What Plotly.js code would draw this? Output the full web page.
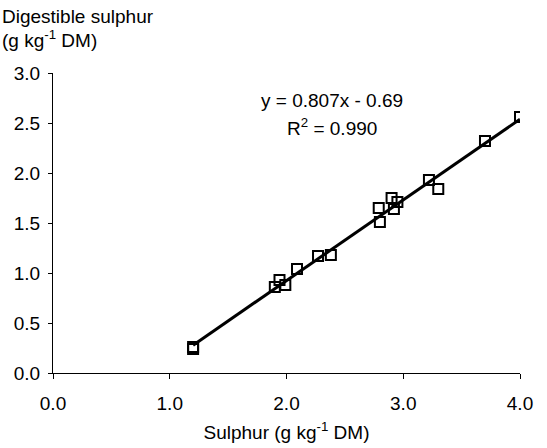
<!DOCTYPE html>
<html>
<head>
<meta charset="utf-8">
<script src="https://cdn.plot.ly/plotly-3.0.1.min.js"></script>
<style>html,body{margin:0;padding:0;background:#fff;}#chart{width:547px;height:448px;}</style>
</head>
<body>
<div id="chart"></div>
<script>
// Data
const sulphur = [1.2, 1.2, 1.9, 1.94, 1.99, 2.09, 2.27, 2.38, 2.79, 2.8, 2.9, 2.92, 2.95, 3.22, 3.3, 3.7, 4.0];
const digestibleSulphur = [0.26, 0.24, 0.86, 0.93, 0.88, 1.04, 1.17, 1.18, 1.65, 1.51, 1.75, 1.64, 1.71, 1.93, 1.84, 2.32, 2.56];
const slope = 0.807;
const intercept = -0.69;
const rSquared = 0.990;
const tickVals = [0, 1, 2, 3, 4];
const tickText = ['0.0', '1.0', '2.0', '3.0', '4.0'];
const yTickVals = [0, 0.5, 1, 1.5, 2, 2.5, 3];
const yTickText = ['0.0', '0.5', '1.0', '1.5', '2.0', '2.5', '3.0'];

const xMin = Math.min(...sulphur), xMax = Math.max(...sulphur);
const fitX = [xMin, xMax];
const fitY = fitX.map(v => slope * v + intercept);

const font = {family: 'Liberation Sans, Arial, sans-serif', size: 19, color: '#000'};

const traces = [
  {x: fitX, y: fitY, type: 'scatter', mode: 'lines', line: {color: '#000', width: 3}, hoverinfo: 'skip'},
  {x: sulphur, y: digestibleSulphur, type: 'scatter', mode: 'markers',
   marker: {symbol: 'square-open', size: 10, color: '#000', line: {width: 2, color: '#000'}}}
];

const layout = {
  width: 547, height: 448,
  margin: {l: 53, r: 27, t: 73, b: 75},
  paper_bgcolor: '#fff', plot_bgcolor: '#fff',
  showlegend: false,
  font: font,
  xaxis: {
    range: [0, 4], tickvals: tickVals, ticktext: tickText,
    showgrid: false, zeroline: false, showline: true, linecolor: '#000', linewidth: 1,
    ticks: 'outside', ticklen: 5, tickcolor: '#000', tickwidth: 1,
    ticklabelstandoff: 8,
    tickfont: font,
    title: {text: 'Sulphur (g kg<sup>-1</sup> DM)', font: font, standoff: 12}
  },
  yaxis: {
    range: [0, 3], tickvals: yTickVals, ticktext: yTickText,
    showgrid: false, zeroline: false, showline: true, linecolor: '#000', linewidth: 1,
    ticks: 'outside', ticklen: 4, tickcolor: '#000', tickwidth: 1,
    ticklabelstandoff: 4,
    tickfont: font
  },
  annotations: [
    {xref: 'paper', yref: 'paper', x: -53/467, y: 1 + 56/300, xanchor: 'left', yanchor: 'middle',
     text: 'Digestible sulphur', showarrow: false, font: font},
    {xref: 'paper', yref: 'paper', x: -53/467, y: 1 + 34/300, xanchor: 'left', yanchor: 'middle',
     text: '(g kg<sup>-1</sup> DM)', showarrow: false, font: font},
    {xref: 'x', yref: 'y', x: 2.39, y: 2.73, xanchor: 'center', yanchor: 'middle',
     text: 'y = ' + slope.toFixed(3) + 'x - ' + Math.abs(intercept).toFixed(2), showarrow: false, font: font},
    {xref: 'x', yref: 'y', x: 2.39, y: 2.46, xanchor: 'center', yanchor: 'middle',
     text: 'R<sup>2</sup> = ' + rSquared.toFixed(3), showarrow: false, font: font}
  ]
};

Plotly.newPlot('chart', traces, layout, {displayModeBar: false, staticPlot: true});
</script>
</body>
</html>
